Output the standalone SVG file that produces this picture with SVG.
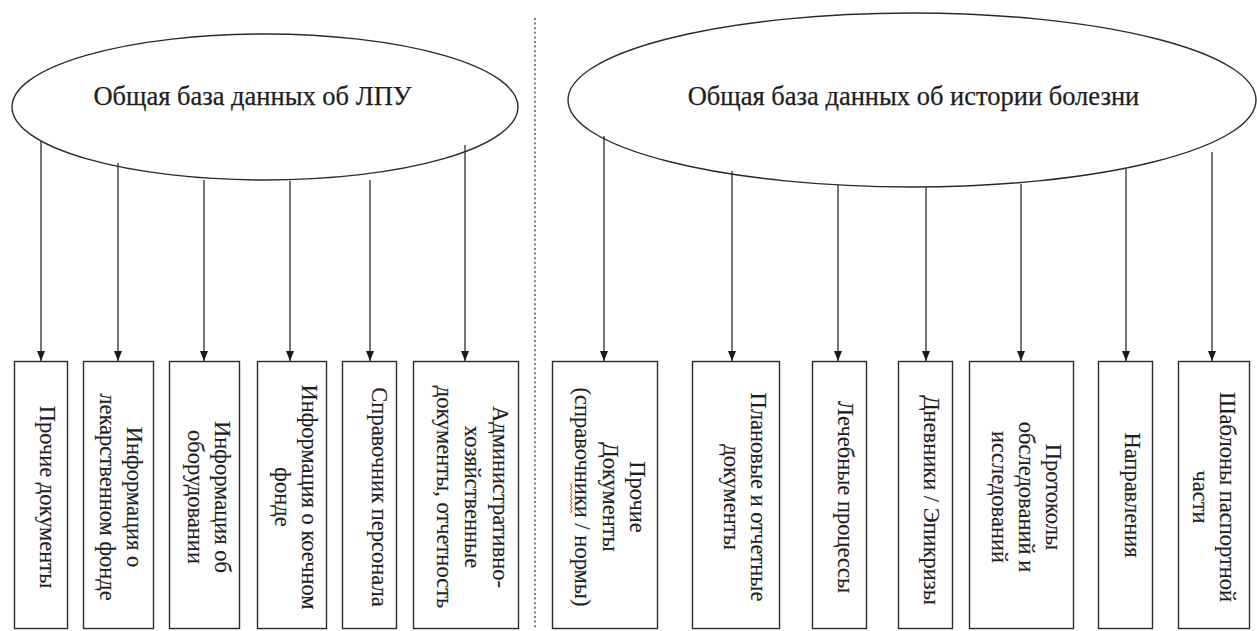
<svg xmlns="http://www.w3.org/2000/svg" width="1257" height="631" viewBox="0 0 1257 631">
<style>
  .bg{fill:#ffffff}
  .ell{fill:none;stroke:#2a2a2a;stroke-width:1.4}
  .box{fill:#ffffff;stroke:#2a2a2a;stroke-width:1.4}
  .title{font-family:"Liberation Serif","Times New Roman",serif;font-size:26.5px;fill:#1e1e1e;stroke:#1e1e1e;stroke-width:0.25;text-anchor:middle}
  .t{font-family:"Liberation Serif","Times New Roman",serif;font-size:22.5px;fill:#1e1e1e;stroke:#1e1e1e;stroke-width:0.15;text-anchor:middle}
  .con{stroke:#1a1a1a;stroke-width:1.2;fill:none;marker-end:url(#ah)}
  .sep{stroke:#808080;stroke-width:2;stroke-dasharray:2 2.6;fill:none}
  .squig{stroke:#e03030;stroke-width:1;fill:none}
</style>
<defs>
  <marker id="ah" viewBox="0 0 10 8" refX="10" refY="4" markerWidth="10" markerHeight="8" markerUnits="userSpaceOnUse" orient="auto">
    <path d="M0,0 L10,4 L0,8 Z" fill="#1a1a1a"/>
  </marker>
</defs>
<rect class="bg" x="0" y="0" width="1257" height="631"/>

<line class="sep" x1="535" y1="18" x2="535" y2="628"/>

<g id="connectors">
  <path class="con" d="M41,141 V361"/>
  <path class="con" d="M118,163 V361"/>
  <path class="con" d="M204,180 V361"/>
  <path class="con" d="M290,181 V361"/>
  <path class="con" d="M370,180 V361"/>
  <path class="con" d="M465,145 V361"/>
  <path class="con" d="M604,136 V361"/>
  <path class="con" d="M732,171 V361"/>
  <path class="con" d="M838,185 V361"/>
  <path class="con" d="M926,187 V361"/>
  <path class="con" d="M1021,184 V361"/>
  <path class="con" d="M1126,169 V361"/>
  <path class="con" d="M1212,152 V361"/>
</g>

<g id="db-lpu">
  <ellipse class="ell" cx="265" cy="107" rx="253" ry="73"/>
  <text class="title" x="252.5" y="105">Общая база данных об ЛПУ</text>
</g>
<g id="db-history">
  <ellipse class="ell" cx="912" cy="100" rx="344" ry="87"/>
  <text class="title" x="913.5" y="105">Общая база данных об истории болезни</text>
</g>

<g id="l1">
  <rect class="box" x="14.5" y="361.5" width="53" height="267"/>
  <text class="t" transform="translate(40,497) rotate(90)">Прочие документы</text>
</g>
<g id="l2">
  <rect class="box" x="83.5" y="361.5" width="70" height="267"/>
  <text class="t" transform="translate(127,497) rotate(90)"><tspan x="0" y="0">Информация о</tspan><tspan x="0" y="27">лекарственном фонде</tspan></text>
</g>
<g id="l3">
  <rect class="box" x="169.5" y="361.5" width="70" height="267"/>
  <text class="t" transform="translate(215,497) rotate(90)"><tspan x="0" y="0">Информация об</tspan><tspan x="0" y="27">оборудовании</tspan></text>
</g>
<g id="l4">
  <rect class="box" x="257.5" y="361.5" width="69" height="267"/>
  <text class="t" transform="translate(302,497) rotate(90)"><tspan x="0" y="0">Информация о коечном</tspan><tspan x="0" y="27">фонде</tspan></text>
</g>
<g id="l5">
  <rect class="box" x="342.5" y="361.5" width="54" height="267"/>
  <text class="t" transform="translate(372,497) rotate(90)">Справочник персонала</text>
</g>
<g id="l6">
  <rect class="box" x="413.5" y="361.5" width="105" height="267"/>
  <text class="t" transform="translate(493,497) rotate(90)"><tspan x="0" y="0">Административно-</tspan><tspan x="0" y="28">хозяйственные</tspan><tspan x="0" y="56">документы, отчетность</tspan></text>
</g>

<g id="r1">
  <rect class="box" x="552.5" y="361.5" width="105" height="267"/>
  <text class="t" transform="translate(630,497) rotate(90)"><tspan x="0" y="0">Прочие</tspan><tspan x="0" y="27.5">Документы</tspan><tspan x="0" y="55">(справочники / нормы)</tspan></text>
  <path class="squig" d="M572,483 l-1.5,2 l1.5,2 l-1.5,2 l1.5,2 l-1.5,2 l1.5,2 l-1.5,2 l1.5,2 l-1.5,2 l1.5,2 l-1.5,2 l1.5,2 l-1.5,2 l1.5,2 l-1.5,2"/>
</g>
<g id="r2">
  <rect class="box" x="692.5" y="361.5" width="87" height="267"/>
  <text class="t" transform="translate(751,497) rotate(90)"><tspan x="0" y="0">Плановые и отчетные</tspan><tspan x="0" y="27">документы</tspan></text>
</g>
<g id="r3">
  <rect class="box" x="812.5" y="361.5" width="54" height="267"/>
  <text class="t" transform="translate(838,497) rotate(90)">Лечебные процессы</text>
</g>
<g id="r4">
  <rect class="box" x="898.5" y="361.5" width="54" height="267"/>
  <text class="t" transform="translate(924,500) rotate(90)">Дневники / Эпикризы</text>
</g>
<g id="r5">
  <rect class="box" x="969.5" y="361.5" width="104" height="267"/>
  <text class="t" transform="translate(1046,497) rotate(90)"><tspan x="0" y="0">Протоколы</tspan><tspan x="0" y="27">обследований и</tspan><tspan x="0" y="54">исследований</tspan></text>
</g>
<g id="r6">
  <rect class="box" x="1098.5" y="361.5" width="54" height="267"/>
  <text class="t" transform="translate(1125,495) rotate(90)">Направления</text>
</g>
<g id="r7">
  <rect class="box" x="1178.5" y="361.5" width="71" height="267"/>
  <text class="t" transform="translate(1220,497) rotate(90)"><tspan x="0" y="0">Шаблоны паспортной</tspan><tspan x="0" y="27">части</tspan></text>
</g>
</svg>
